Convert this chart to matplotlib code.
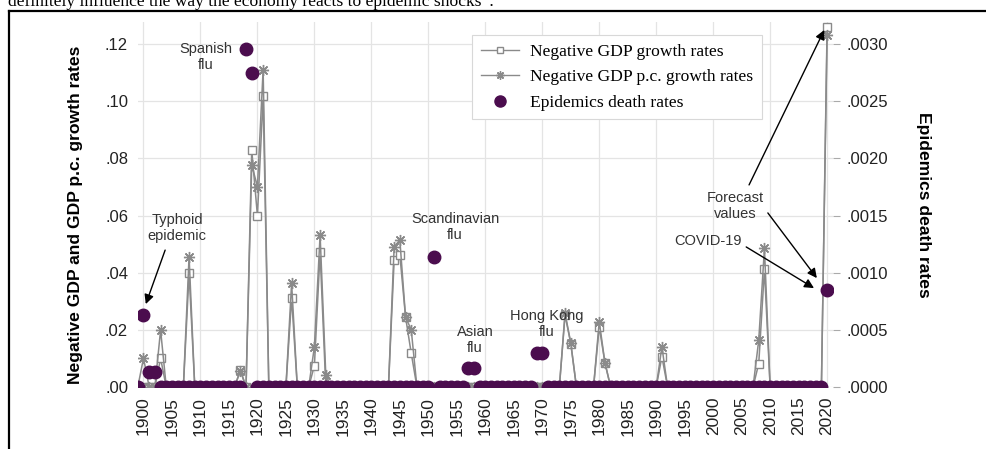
import numpy as np
import matplotlib
matplotlib.use("Agg")
import matplotlib.pyplot as plt
from matplotlib.lines import Line2D

years = np.arange(1899, 2021)

# negative growth rates (only the years with a contraction, all others are zero)
gdp_neg = {1903: .0100, 1908: .0398, 1917: .0060, 1919: .0829, 1920: .0599,
           1921: .1017, 1926: .0312, 1930: .0075, 1931: .0471, 1944: .0445,
           1945: .0462, 1946: .0245, 1947: .0118, 1974: .0252, 1975: .0152,
           1980: .0210, 1981: .0085, 1991: .0106, 2008: .0082, 2009: .0412,
           2020: .1260}
gdp_pc_neg = {1900: .0101, 1903: .0199, 1908: .0456, 1917: .0057, 1919: .0777,
              1920: .0701, 1921: .1110, 1926: .0363, 1930: .0141, 1931: .0532,
              1932: .0042, 1944: .0491, 1945: .0514, 1946: .0245, 1947: .0200,
              1974: .0258, 1975: .0155, 1980: .0229, 1981: .0085, 1991: .0141,
              2008: .0164, 2009: .0485, 2020: .1232}
death_rates = {1900: .00063, 1901: .00013, 1902: .00013, 1918: .00296,
               1919: .00275, 1951: .00114, 1957: .00017, 1958: .00017,
               1969: .00030, 1970: .00030, 2020: .00085}

left_ticks = [0, .02, .04, .06, .08, .10, .12]
left_labels = [".00", ".02", ".04", ".06", ".08", ".10", ".12"]
right_ticks = [0, .0005, .0010, .0015, .0020, .0025, .0030]
right_labels = [".0000", ".0005", ".0010", ".0015", ".0020", ".0025", ".0030"]


def by_year(d):
    return np.array([d.get(y, 0.0) for y in years])


gray = "#8a8a8a"
purple = "#4b0d4e"
sans = "Liberation Sans"
serif = "Liberation Serif"

fig = plt.figure(figsize=(9.87, 4.49), dpi=100)
ax = fig.add_axes([137.8 / 987, 62 / 449, 695 / 987, 365 / 449])
ymax = 0.1277
ax.set_xlim(1899, 2021)
ax.set_ylim(0, ymax)

ax.plot(years, by_year(gdp_neg), color=gray, lw=1.1, marker="s", ms=6,
        mfc="white", mec=gray, mew=1.0, zorder=3)
ax.plot(years, by_year(gdp_pc_neg), color=gray, lw=1.1, marker=(8, 2, 0), ms=8,
        mec=gray, mew=1.0, zorder=3)

ax2 = ax.twinx()
ax2.set_ylim(0, ymax / 40)
ax2.plot(years, by_year(death_rates), ls="none", marker="o", ms=9,
         color=purple, mec=purple, zorder=4)

# axes styling
ax.set_xticks(np.arange(1900, 2021, 5))
ax.set_xticklabels([str(y) for y in range(1900, 2021, 5)], rotation=90,
                   fontsize=12.5, family=sans)
ax.set_yticks(left_ticks)
ax.set_yticklabels(left_labels, fontsize=12, family=sans)
ax.tick_params(axis="both", length=0, pad=7, colors="#222222")
ax2.set_yticks(right_ticks)
ax2.set_yticklabels(right_labels, fontsize=12, family=sans)
ax2.tick_params(axis="y", length=5, color="#aaaaaa", pad=5, labelcolor="#222222")

for x in range(1900, 2021, 10):
    ax.axvline(x, color="#e4e4e4", lw=0.9, zorder=0)
for y in left_ticks:
    ax.axhline(y, color="#e4e4e4", lw=0.9, zorder=0)
for a in (ax, ax2):
    for s in a.spines.values():
        s.set_visible(False)

ax.set_ylabel("Negative GDP and GDP p.c. growth rates", fontsize=12.6,
              fontweight="bold", family=sans)
ax.yaxis.set_label_coords(-0.079, 0.471)
ax2.set_ylabel("Epidemics death rates", fontsize=12.6, fontweight="bold",
               family=sans, rotation=270, labelpad=31)

# annotations
txt = dict(fontsize=10.5, family=sans, color="#333333", ha="center", va="center",
           zorder=6)
ax.text(1905.9, .0555, "Typhoid\nepidemic", **txt)
ax.text(1911.0, .1155, "Spanish\nflu", **txt)
ax.text(1954.7, .0560, "Scandinavian\nflu", **txt)
ax.text(1958.2, .0164, "Asian\nflu", **txt)
ax.text(1970.7, .0220, "Hong Kong\nflu", **txt)
ax.text(2003.8, .0633, "Forecast\nvalues", **txt)
ax.text(1999.1, .0511, "COVID-19", **txt)

arrow = dict(arrowstyle="-|>", color="black", lw=1.0, mutation_scale=14,
             shrinkA=0, shrinkB=0)
for tail, head in [((1903.8, .0479), (1900.4, .0290)),
                   ((2006.3, .0707), (2019.5, .1249)),
                   ((2009.6, .0609), (2018.2, .0381)),
                   ((2005.8, .0490), (2017.7, .0346))]:
    ax.annotate("", xy=head, xytext=tail, arrowprops=arrow, zorder=6)

handles = [
    Line2D([], [], color=gray, lw=1.0, marker="s", ms=5, mfc="white", mec=gray),
    Line2D([], [], color=gray, lw=1.0, marker=(8, 2, 0), ms=6, mec=gray),
    Line2D([], [], ls="none", marker="o", ms=8, color=purple),
]
labels = ["Negative GDP growth rates", "Negative GDP p.c. growth rates",
          "Epidemics death rates"]
leg = ax2.legend(handles, labels, loc="upper left",
                 bbox_to_anchor=(472 / 987, 1 - 35 / 449),
                 bbox_transform=fig.transFigure,
                 prop=dict(family=serif, size=12.6), frameon=True,
                 fancybox=False, edgecolor="#d8d8d8", framealpha=1,
                 handlelength=2.2, borderpad=0.5, labelspacing=0.52,
                 handletextpad=0.6, borderaxespad=0)
leg.get_frame().set_linewidth(0.8)

# surrounding page: frame lines and the clipped sentence above
fig.add_artist(Line2D([9 / 987, 1], [1 - 11 / 449, 1 - 11 / 449],
                      color="black", lw=1.6, transform=fig.transFigure))
fig.add_artist(Line2D([9 / 987, 9 / 987], [0, 1 - 11 / 449],
                      color="black", lw=1.6, transform=fig.transFigure))
fig.text(8 / 987, 1 - 6 / 449,
         "definitely influence the way the economy reacts to epidemic shocks\u201d.",
         family=serif, fontsize=12.6, va="baseline", ha="left")

fig.savefig("out.png", dpi=100)
